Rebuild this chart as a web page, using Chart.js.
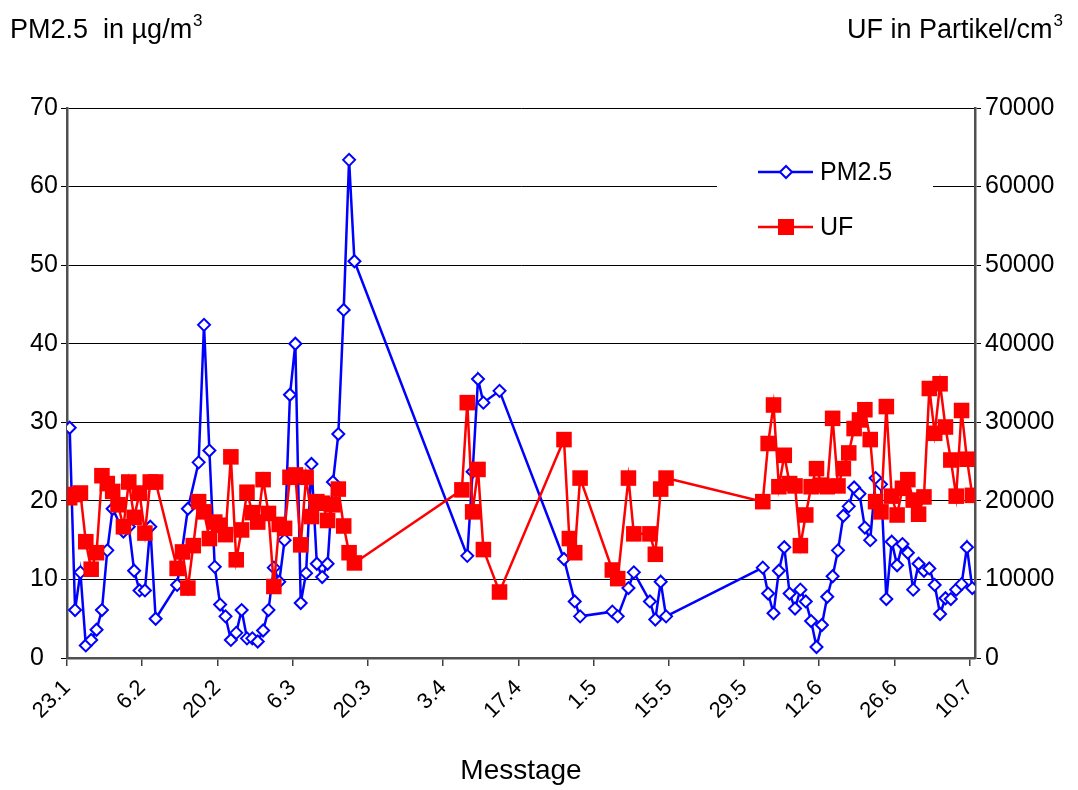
<!DOCTYPE html>
<html>
<head>
<meta charset="utf-8">
<script src="https://cdn.jsdelivr.net/npm/chart.js@4.4.0/dist/chart.umd.min.js"></script>
<style>
  body { margin: 0; background: #fff; }
</style>
</head>
<body>
<canvas id="myChart" width="1078" height="790"></canvas>
<script>
// days counted from 23.1, one tick every 14 days
var tickDays = [0, 14, 28, 42, 56, 70, 84, 98, 112, 126, 140, 154, 168];
var tickLabels = ["23.1", "6.2", "20.2", "6.3", "20.3", "3.4", "17.4", "1.5", "15.5", "29.5", "12.6", "26.6", "10.7"];

var pmDays = [0, 1, 2, 3, 4, 5, 6, 7, 8, 10, 11, 12, 13, 14, 15, 16, 20, 22, 24, 25, 26, 27, 28, 29, 30, 31, 32, 33, 34, 35, 36, 37, 38, 39, 40, 41, 42, 43, 44, 45, 46, 47, 48, 49, 50, 51, 52, 53,
  74, 75, 76, 77, 80, 92, 94, 95, 101, 102, 104, 105, 108, 109, 110, 111,
  129, 130, 131, 132, 133, 134, 135, 136, 137, 138, 139, 140, 141, 142, 143, 144, 145, 146, 147, 148, 149, 150, 151, 152, 153, 154, 155, 156, 157, 158, 159, 160, 161, 162, 163, 164, 165, 166, 167, 168];
var pmValues = [29.3, 6.1, 10.9, 1.6, 2.3, 3.6, 6.1, 13.7, 19.0, 16.1, 16.7, 11.1, 8.6, 8.6, 16.7, 5.0, 9.3, 19.0, 24.9, 42.4, 26.4, 11.6, 6.8, 5.3, 2.3, 3.2, 6.1, 2.5, 2.5, 2.1, 3.5, 6.1, 11.5, 9.7, 15.0, 33.5, 40.0, 7.0, 10.8, 24.7, 12.0, 10.3, 12.0, 22.4, 28.5, 44.3, 63.4, 50.5,
  13.0, 23.7, 35.5, 32.5, 34.0, 12.6, 7.2, 5.3, 5.9, 5.3, 8.9, 10.9, 7.2, 4.9, 9.7, 5.3,
  11.5, 8.2, 5.7, 11.1, 14.1, 8.2, 6.3, 8.7, 7.2, 4.7, 1.4, 4.2, 7.8, 10.4, 13.7, 18.1, 19.3, 21.7, 20.9, 16.6, 15.0, 22.9, 22.1, 7.5, 14.8, 11.8, 14.5, 13.4, 8.7, 12.0, 11.1, 11.4, 9.3, 5.6, 7.6, 7.5, 8.7, 9.4, 14.1, 8.9];

var ufDays = [0, 1, 2, 3, 4, 5, 6, 7, 8, 9, 10, 11, 12, 13, 14, 15, 16, 20, 21, 22, 23, 24, 25, 26, 27, 28, 29, 30, 31, 32, 33, 34, 35, 36, 37, 38, 39, 40, 41, 42, 43, 44, 45, 46, 47, 48, 49, 50, 51, 52, 53,
  73, 74, 75, 76, 77, 80, 92, 93, 94, 95, 101, 102, 104, 105, 108, 109, 110, 111,
  129, 130, 131, 132, 133, 134, 135, 136, 137, 138, 139, 140, 141, 142, 143, 144, 145, 146, 147, 148, 149, 150, 151, 152, 153, 154, 155, 156, 157, 158, 159, 160, 161, 162, 163, 164, 165, 166, 167, 168];
var ufValues = [20400, 20800, 21000, 14800, 11300, 13400, 23200, 22200, 21200, 19500, 16700, 22400, 17900, 21000, 15900, 22400, 22400, 11400, 13500, 8900, 14300, 19900, 18600, 15200, 17300, 16900, 15700, 25600, 12500, 16300, 21100, 18500, 17300, 22700, 18400, 9100, 17000, 16500, 23000, 23300, 14400, 23000, 18000, 19900, 19700, 17500, 19500, 21500, 16800, 13400, 12100,
  21400, 32500, 18600, 24000, 13800, 8400, 27800, 15200, 13400, 22900, 11200, 10100, 22900, 15800, 15800, 13200, 21500, 22900,
  19900, 27300, 32200, 21800, 25800, 22200, 21900, 14300, 18200, 21800, 24100, 22000, 21800, 30500, 21900, 24100, 26100, 29200, 30300, 31600, 27800, 19900, 18600, 32000, 20600, 18200, 21600, 22700, 20100, 18300, 20500, 34300, 28600, 34900, 29400, 25200, 20600, 31500, 25300, 20700];

var font = "'Liberation Sans', Arial, sans-serif";
Chart.defaults.font.family = font;
Chart.defaults.color = "#000";

function points(days, values) {
  return days.map(function (d, i) { return { x: d, y: values[i] }; });
}

// text with a raised "3" at the end
function unitText(ctx, text, x, y, alignRight) {
  ctx.font = "27px " + font;
  var w = ctx.measureText(text).width;
  ctx.font = "17px " + font;
  var w3 = ctx.measureText("3").width;
  if (alignRight) x = x - w - w3 - 1;
  ctx.font = "27px " + font;
  ctx.fillText(text, x, y);
  ctx.font = "17px " + font;
  ctx.fillText("3", x + w + 1, y - 12);
}

var titles = {
  id: "titles",
  afterDraw: function (chart) {
    var ctx = chart.ctx;
    ctx.save();
    ctx.fillStyle = "#000";
    ctx.textBaseline = "alphabetic";
    unitText(ctx, "PM2.5  in \u00b5g/m", 10, 38, false);
    unitText(ctx, "UF in Partikel/cm", 1063, 38, true);
    ctx.restore();
  }
};

// legend sits inside the plot, top right
var legendBox = {
  id: "legendBox",
  afterDatasetsDraw: function (chart) {
    var ctx = chart.ctx;
    ctx.save();
    ctx.fillStyle = "#fff";
    ctx.fillRect(717, 150, 216, 104);
    chart.data.datasets.forEach(function (ds, i) {
      var y = 172 + i * 55;
      ctx.strokeStyle = ds.borderColor;
      ctx.lineWidth = ds.borderWidth;
      ctx.beginPath();
      ctx.moveTo(758, y);
      ctx.lineTo(813, y);
      ctx.stroke();
      if (ds.pointStyle === "rectRot") {
        ctx.beginPath();
        ctx.moveTo(786 - 6, y);
        ctx.lineTo(786, y - 6);
        ctx.lineTo(786 + 6, y);
        ctx.lineTo(786, y + 6);
        ctx.closePath();
        ctx.fillStyle = "#fff";
        ctx.fill();
        ctx.lineWidth = 2;
        ctx.stroke();
      } else {
        ctx.fillStyle = ds.pointBackgroundColor;
        ctx.fillRect(786 - 8, y - 8, 16, 16);
      }
      ctx.fillStyle = "#000";
      ctx.font = "25px " + font;
      ctx.textBaseline = "middle";
      ctx.fillText(ds.label, 820, y + 1);
    });
    ctx.restore();
  }
};

new Chart("myChart", {
  type: "line",
  data: {
    datasets: [{
      label: "PM2.5",
      data: points(pmDays, pmValues),
      yAxisID: "y",
      borderColor: "#0000ff",
      borderWidth: 2.5,
      pointStyle: "rectRot",
      pointRadius: 6,
      pointBorderWidth: 2,
      pointBorderColor: "#0000ff",
      pointBackgroundColor: "#fff",
      tension: 0,
      order: 1
    }, {
      label: "UF",
      data: points(ufDays, ufValues),
      yAxisID: "y2",
      borderColor: "#ff0000",
      borderWidth: 2.5,
      pointStyle: "rect",
      pointRadius: 11,
      pointBorderWidth: 0,
      pointBackgroundColor: "#ff0000",
      tension: 0,
      order: 0
    }]
  },
  options: {
    responsive: false,
    animation: false,
    devicePixelRatio: 1,
    layout: { padding: { top: 108, left: 30, right: 0, bottom: 0 } },
    plugins: {
      legend: { display: false },
      tooltip: { enabled: false }
    },
    scales: {
      x: {
        type: "linear",
        min: -0.5,
        max: 168.5,
        afterBuildTicks: function (scale) {
          scale.ticks = tickDays.map(function (d) { return { value: d - 0.5 }; });
        },
        afterFit: function (scale) { scale.height = 132; },
        ticks: {
          autoSkip: false,
          minRotation: 45,
          maxRotation: 45,
          padding: 9,
          font: { size: 22 },
          callback: function (v, i) { return tickLabels[i]; }
        },
        grid: { drawOnChartArea: false, tickLength: 8, color: "#404040", lineWidth: 1.5 },
        border: { color: "#505050", width: 2.5 },
        title: { display: true, text: "Messtage", font: { size: 28 }, padding: { top: 0, bottom: 2 } }
      },
      y: {
        position: "left",
        min: 0,
        max: 70,
        afterFit: function (scale) { scale.width = 37; },
        ticks: { stepSize: 10, padding: 4, crossAlign: "far", font: { size: 25 } },
        grid: { color: "#000", lineWidth: 1, tickLength: 6 },
        border: { color: "#505050", width: 2.5 }
      },
      y2: {
        position: "right",
        min: 0,
        max: 70000,
        afterFit: function (scale) { scale.width = 103; },
        ticks: {
          stepSize: 10000,
          padding: 4,
          font: { size: 25 },
          callback: function (v) { return String(v); }
        },
        grid: { drawOnChartArea: false, color: "#000", lineWidth: 1, tickLength: 6 },
        border: { color: "#505050", width: 2.5 }
      }
    }
  },
  plugins: [titles, legendBox]
});
</script>
</body>
</html>
